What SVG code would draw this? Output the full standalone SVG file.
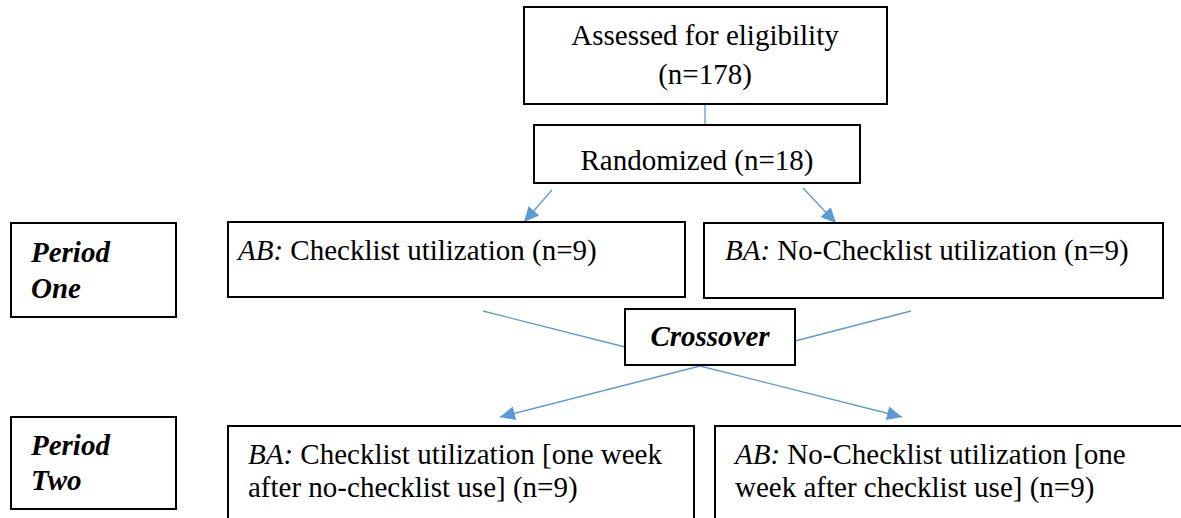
<svg xmlns="http://www.w3.org/2000/svg" width="1181" height="518" viewBox="0 0 1181 518">
  <style>
    .box { fill: #ffffff; stroke: #000000; stroke-width: 2; }
    text { font-size: 29px; fill: #000000; }
    .lbl { font-weight: bold; font-style: italic; }
    .it { font-style: italic; }
    .conn { stroke: #5B9BD5; stroke-width: 1.3; fill: none; }
  </style>
  <defs>
    <marker id="arrow" markerUnits="userSpaceOnUse" markerWidth="16" markerHeight="16" refX="15" refY="8" orient="auto">
      <path d="M0,1 L15,8 L0,15 Z" fill="#5B9BD5"/>
    </marker>
  </defs>
  <rect x="0" y="0" width="1181" height="518" fill="#ffffff"/>

  <!-- connectors -->
  <g id="connectors">
    <line class="conn" x1="705" y1="104" x2="705" y2="125"/>
    <line class="conn" x1="552" y1="190" x2="524" y2="222" marker-end="url(#arrow)"/>
    <line class="conn" x1="803" y1="188" x2="836" y2="223" marker-end="url(#arrow)"/>
    <line class="conn" x1="483" y1="311" x2="625" y2="347"/>
    <line class="conn" x1="911" y1="311" x2="795" y2="341"/>
    <line class="conn" x1="700" y1="366" x2="500" y2="417" marker-end="url(#arrow)"/>
    <line class="conn" x1="700" y1="366" x2="902" y2="417" marker-end="url(#arrow)"/>
  </g>

  <g font-family="Liberation Serif, serif">
  <g id="eligibility">
    <rect class="box" x="524" y="7" width="363" height="97"/>
    <text x="705" y="45" text-anchor="middle">Assessed for eligibility</text>
    <text x="705" y="84" text-anchor="middle">(n=178)</text>
  </g>

  <g id="randomized">
    <rect class="box" x="534" y="125" width="326" height="58"/>
    <text x="697" y="170" text-anchor="middle">Randomized (n=18)</text>
  </g>

  <g id="period-one">
    <rect class="box" x="11" y="223" width="165" height="94"/>
    <text class="lbl" x="31" y="262">Period</text>
    <text class="lbl" x="31" y="298">One</text>
  </g>

  <g id="ab-period-one">
    <rect class="box" x="228" y="222" width="457" height="75"/>
    <text x="238" y="260"><tspan class="it">AB:</tspan> Checklist utilization (n=9)</text>
  </g>

  <g id="ba-period-one">
    <rect class="box" x="704" y="223" width="459" height="75"/>
    <text x="725" y="260"><tspan class="it">BA:</tspan> No-Checklist utilization (n=9)</text>
  </g>

  <g id="crossover">
    <rect class="box" x="625" y="309" width="170" height="56"/>
    <text class="lbl" x="710" y="346" text-anchor="middle">Crossover</text>
  </g>

  <g id="period-two">
    <rect class="box" x="11" y="417" width="165" height="92"/>
    <text class="lbl" x="31" y="455">Period</text>
    <text class="lbl" x="31" y="490">Two</text>
  </g>

  <g id="ba-period-two">
    <rect class="box" x="228" y="426" width="466" height="100"/>
    <text x="248" y="464"><tspan class="it">BA:</tspan> Checklist utilization [one week</text>
    <text x="248" y="497">after no-checklist use] (n=9)</text>
  </g>

  <g id="ab-period-two">
    <rect class="box" x="715" y="426" width="475" height="100"/>
    <text x="735" y="464"><tspan class="it">AB:</tspan> No-Checklist utilization [one</text>
    <text x="735" y="497">week after checklist use] (n=9)</text>
  </g>
  </g>
</svg>
